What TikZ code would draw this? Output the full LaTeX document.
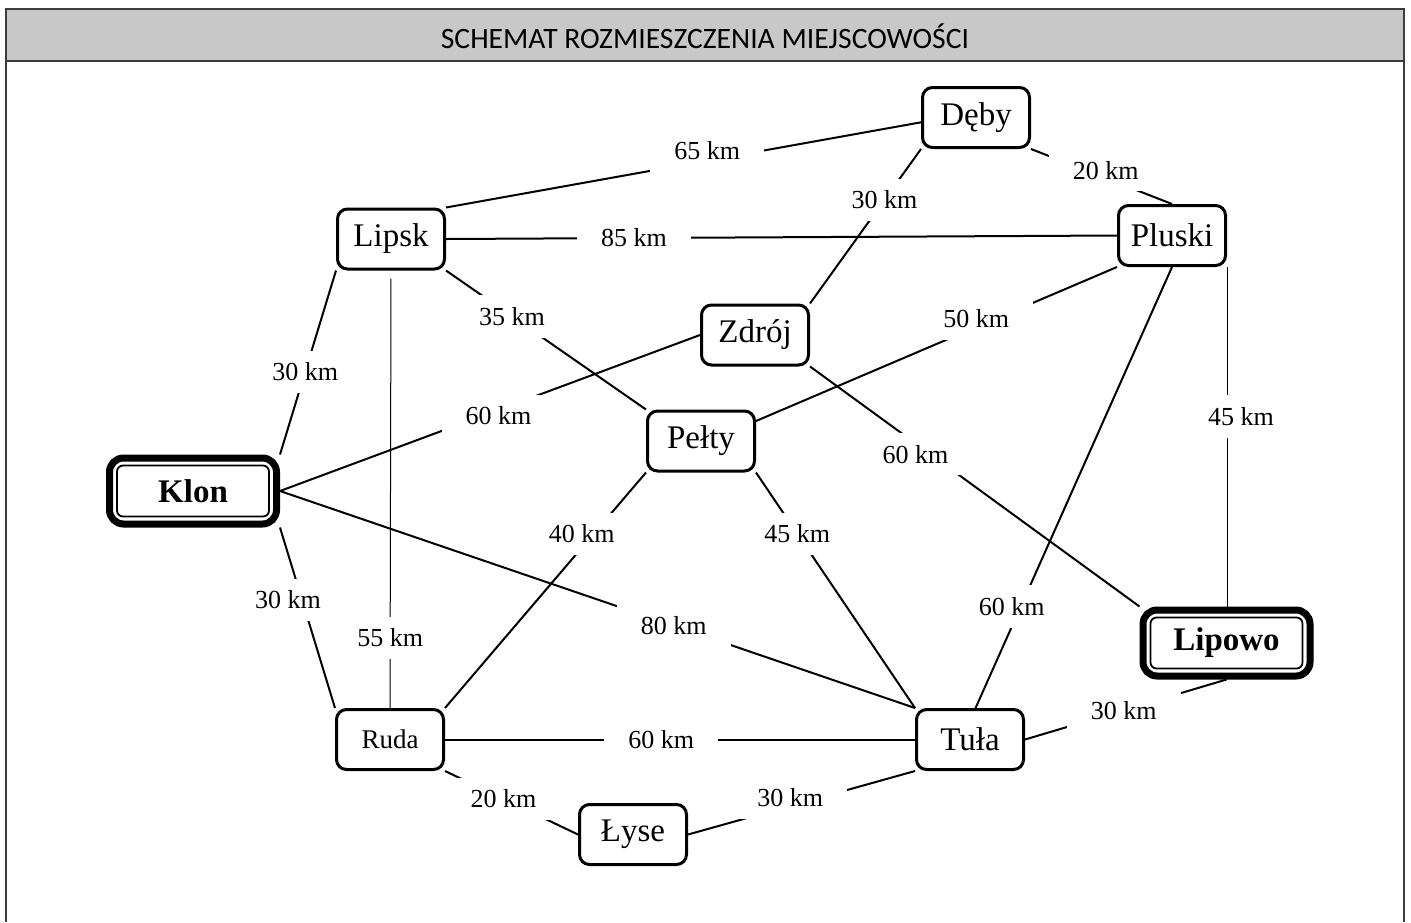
\documentclass[tikz,border=0pt]{standalone}
\usepackage{fontspec}
\setmainfont{Liberation Serif}
\newfontfamily\titlefont{Carlito}
\usetikzlibrary{fit}
\definecolor{barfill}{RGB}{200,200,200}
\definecolor{barline}{RGB}{60,60,60}
\tikzset{x=0.5pt, y=-0.5pt, % one unit is one pixel of the plan, y runs down
town/.style={draw, line width=1.5pt, rounded corners=5pt, minimum width=53.5pt, minimum height=30pt, font=\fontsize{16.5}{18}\selectfont}, % a place on the plan
bigtown/.style={town, line width=0.9pt, rounded corners=3pt, minimum width=76pt, minimum height=25.5pt, font=\fontsize{16.5}{18}\selectfont\bfseries}, % inner box of a main place
rim/.style={draw, line width=3.5pt, rounded corners=7pt, inner sep=3.3pt}, % thick box round a main place
road/.style={line width=1pt}, % a road between two places
lane/.style={line width=0.5pt}, % a thinner road
km/.style={fill=white, inner xsep=12pt, inner ysep=6pt, font=\fontsize{13}{15}\selectfont}, % the distance on a road
frame/.style={draw=barline, line width=1.2pt},
}

\begin{document}
\begin{tikzpicture}
  \useasboundingbox (0,0) rectangle (1411,922);
  \draw[frame] (6,922) -- (6,9) -- (1404,9) -- (1404,922);
  \draw[frame, fill=barfill] (6,9) rectangle (1404,61);
  \node[font=\titlefont\fontsize{14.8}{17}\selectfont] (title) at (705,36) {SCHEMAT ROZMIESZCZENIA MIEJSCOWOŚCI};

  \node[town] (dab) at (976,117.5) {Dęby};
  \node[town] (lip) at (391,239) {Lipsk};
  \node[town] (plu) at (1172,235.5) {Pluski};
  \node[town] (zdr) at (755,335) {Zdrój};
  \node[town] (pel) at (701,441) {Pełty};
  \node[town, font=\fontsize{13.5}{15}\selectfont] (rud) at (390,739.5) {Ruda};
  \node[town] (tul) at (970,739.5) {Tuła};
  \node[town] (lys) at (633,834.5) {Łyse};
  \node[bigtown] (klon-in) at (193,491) {Klon};
  \node[rim, fit=(klon-in)] (klon) {};
  \node[bigtown] (lpw-in) at (1226.5,643) {Lipowo};
  \node[rim, fit=(lpw-in)] (lpw) {};

  \draw[road] (lip.north east) edge node[km, pos=.55, yshift=5pt]{65 km} (dab.185)
  		(dab.south east) edge node[km, pos=.53, yshift=4pt]{20 km} (plu.north)
  		(dab.south west) edge node[km, pos=.33]{30 km} (zdr.north east)
  		(lip.east) edge node[km, pos=.28]{85 km} (plu.west)
  		(lip.south west) edge node[km, pos=.55]{30 km} (klon.north east)
  		(lip.south) edge[lane, shorten <=4pt] node[km, pos=.84]{55 km} (rud.north)
  		(lip.south east) edge node[km, pos=.33]{35 km} (pel.north west)
  		(zdr.west) edge node[km, pos=.48, yshift=-3pt]{60 km} (klon.east)
  		(plu.south west) edge node[km, pos=.39, yshift=4pt]{50 km} (pel.20)
  		(zdr.south east) edge node[km, pos=.32, yshift=-5.5pt]{60 km} (lpw.north west)
  		(plu.south east) edge[lane] node[km, pos=.44, xshift=7pt]{45 km} (plu.south east |- lpw.north)
  		(plu.south) edge node[km, pos=.77, xshift=-4.5pt]{60 km} (tul.80)
  		(pel.south west) edge node[km, pos=.26, xshift=-6pt]{40 km} (rud.north east)
  		(pel.south east) edge node[km, pos=.26]{45 km} (tul.north west)
  		(klon.east) edge node[km, pos=.62]{80 km} (tul.north west)
  		(klon.south east) edge node[km, pos=.4, xshift=-7pt]{30 km} (rud.north west)
  		(rud.east) edge node[km, pos=.46]{60 km} (tul.west)
  		(tul.east) edge node[km, pos=.49]{30 km} (lpw.south)
  		(rud.south east) edge node[km, pos=.44]{20 km} (lys.west)
  		(lys.east) edge node[km, pos=.45, yshift=4pt]{30 km} (tul.south west);

\end{tikzpicture}
\end{document}
